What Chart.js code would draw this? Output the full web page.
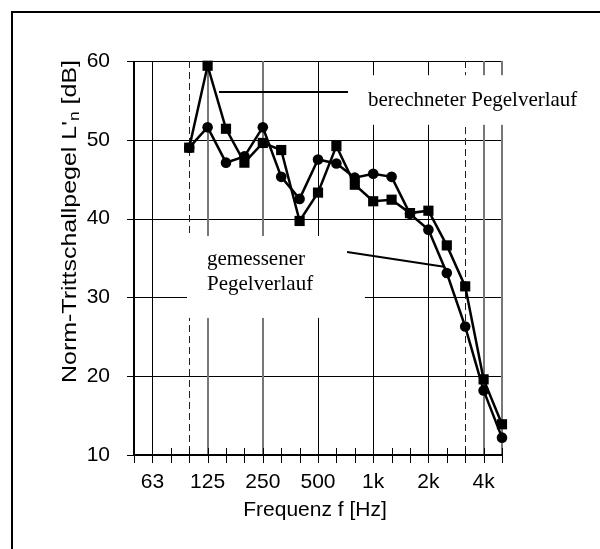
<!DOCTYPE html>
<html><head><meta charset="utf-8">
<script src="https://cdn.jsdelivr.net/npm/chart.js@4"></script>
<style>html,body{margin:0;padding:0;background:#fff}canvas{display:block}</style>
</head><body>
<canvas id="c" width="600" height="549"></canvas>
<script>
// ---- data ----
const bands = ['50','63','80','100','125','160','200','250','315','400','500','630','800','1k','1.25k','1.6k','2k','2.5k','3.15k','4k','5k'];
const tickLabels = ['63','125','250','500','1k','2k','4k'];
const berechnet = [null,null,null,49.0,59.4,51.4,47.1,49.6,48.7,39.7,43.3,49.2,44.3,42.2,42.4,40.7,41.0,36.6,31.4,19.6,13.9];
const gemessen  = [null,null,null,49.0,51.6,47.1,47.9,51.6,45.3,42.5,47.5,47.0,45.2,45.7,45.3,40.6,38.6,33.1,26.3,18.2,12.2];
const yTickValues = [10,20,30,40,50,60];
const yTitle = ["Norm-Trittschallpegel L'", "n", " [dB]"];
const xTitle = "Frequenz f [Hz]";
const labelCalc = "berechneter Pegelverlauf";
const labelMeas = ["gemessener", "Pegelverlauf"];

// ---- styling ----
const SANS = "'Liberation Sans', Arial, sans-serif";
const SERIF = "'Liberation Serif', 'Times New Roman', serif";
const gridSolid = ['63','500','1k','2k'];
const gridGray = ['125','250','4k','5k'];
const gridDashed = ['100','3.15k'];

const deco = {
  id: 'deco',
  beforeDraw(chart) {
    const ctx = chart.ctx;
    ctx.save();
    ctx.fillStyle = '#fff';
    ctx.fillRect(0, 0, chart.width, chart.height);
    ctx.strokeStyle = '#000';
    ctx.lineWidth = 2;
    ctx.beginPath();
    ctx.moveTo(12, chart.height); ctx.lineTo(12, 12); ctx.lineTo(chart.width, 12);
    ctx.stroke();
    ctx.restore();
  },
  beforeDatasetsDraw(chart) {
    const ctx = chart.ctx, xs = chart.scales.x, ys = chart.scales.y, a = chart.chartArea;
    const px = i => xs.getPixelForValue(i);
    const py = v => ys.getPixelForValue(v);
    ctx.save();
    // horizontal grid
    ctx.strokeStyle = '#000'; ctx.lineWidth = 1;
    yTickValues.forEach(v => {
      if (v === ys.min) return;
      const y = Math.round(py(v)) + 0.5;
      ctx.beginPath(); ctx.moveTo(a.left, y); ctx.lineTo(a.right, y); ctx.stroke();
    });
    // vertical grid
    bands.forEach((b, i) => {
      const x = Math.round(px(i));
      ctx.setLineDash([]);
      if (gridSolid.includes(b)) { ctx.strokeStyle = '#000'; ctx.lineWidth = 1; }
      else if (gridGray.includes(b)) { ctx.strokeStyle = '#777'; ctx.lineWidth = 2; }
      else if (gridDashed.includes(b)) { ctx.strokeStyle = '#222'; ctx.lineWidth = 1; ctx.setLineDash([7,4]); }
      else return;
      const xx = ctx.lineWidth === 1 ? x + 0.5 : x;
      ctx.beginPath(); ctx.moveTo(xx, a.top); ctx.lineTo(xx, a.bottom); ctx.stroke();
    });
    ctx.setLineDash([]);
    // white label boxes (in data coordinates)
    ctx.fillStyle = '#fff';
    const b1x = px(2.88), b1y = py(37.8);
    ctx.fillRect(b1x, b1y, px(12.55) - b1x, py(27.4) - b1y);
    const b2x = px(11.5), b2y = py(58.2);
    ctx.fillRect(b2x, b2y, chart.width - b2x, py(51.9) - b2y);
    // axes
    ctx.strokeStyle = '#000'; ctx.lineWidth = 2;
    ctx.beginPath();
    ctx.moveTo(a.left, a.top); ctx.lineTo(a.left, a.bottom); ctx.lineTo(a.right, a.bottom);
    ctx.stroke();
    ctx.lineWidth = 1;
    yTickValues.forEach(v => {
      const y = Math.round(py(v)) + 0.5;
      ctx.beginPath(); ctx.moveTo(a.left - 7, y); ctx.lineTo(a.left + 6, y); ctx.stroke();
    });
    bands.forEach((b, i) => {
      const x = Math.round(px(i)) + 0.5;
      ctx.beginPath(); ctx.moveTo(x, a.bottom - 7); ctx.lineTo(x, a.bottom + 8); ctx.stroke();
    });
    ctx.restore();
  },
  afterDatasetsDraw(chart) {
    const ctx = chart.ctx, xs = chart.scales.x, ys = chart.scales.y;
    const px = i => xs.getPixelForValue(i);
    const py = v => ys.getPixelForValue(v);
    ctx.save();
    // pointer lines
    ctx.strokeStyle = '#000'; ctx.lineWidth = 2;
    ctx.beginPath(); ctx.moveTo(px(4.62), py(56.07)); ctx.lineTo(px(11.63), py(56.07)); ctx.stroke();
    ctx.beginPath(); ctx.moveTo(px(11.58), py(35.76)); ctx.lineTo(px(16.85), py(33.9)); ctx.stroke();
    // annotation texts
    ctx.fillStyle = '#000';
    ctx.font = "21px " + SERIF;
    ctx.textAlign = 'left'; ctx.textBaseline = 'alphabetic';
    ctx.fillText(labelCalc, px(12.72), py(54.35));
    ctx.fillText(labelMeas[0], px(3.97), py(34.1));
    ctx.fillText(labelMeas[1], px(3.97), py(30.94));
    // x title
    ctx.font = "21px " + SANS;
    ctx.textAlign = 'center'; ctx.textBaseline = 'middle';
    ctx.fillText(xTitle, 315, 510);
    // y title (with subscript)
    const f = "20px " + SANS, fs = "14px " + SANS;
    ctx.font = f;
    const w1 = ctx.measureText(yTitle[0]).width, w3 = ctx.measureText(yTitle[2]).width;
    ctx.font = fs;
    const w2 = ctx.measureText(yTitle[1]).width;
    const total = w1 + w2 + w3;
    ctx.translate(70.5, 221.5);
    ctx.rotate(-Math.PI / 2);
    ctx.scale(323 / total, 1);
    ctx.textAlign = 'left'; ctx.textBaseline = 'middle';
    let x = -total / 2;
    ctx.font = f; ctx.fillText(yTitle[0], x, 0); x += w1;
    ctx.font = fs; ctx.fillText(yTitle[1], x, 5); x += w2;
    ctx.font = f; ctx.fillText(yTitle[2], x, 0);
    ctx.restore();
  }
};

new Chart(document.getElementById('c'), {
  type: 'line',
  data: {
    labels: bands,
    datasets: [
      { label: 'berechnet', data: berechnet, borderColor: '#000', backgroundColor: '#000', borderWidth: 2.5,
        pointStyle: 'rect', pointRadius: 7.2, pointBorderWidth: 0, tension: 0, clip: false, spanGaps: false },
      { label: 'gemessen', data: gemessen, borderColor: '#000', backgroundColor: '#000', borderWidth: 2.5,
        pointStyle: 'circle', pointRadius: 5.3, pointBorderWidth: 0, tension: 0, clip: false, spanGaps: false }
    ]
  },
  options: {
    responsive: false,
    animation: false,
    devicePixelRatio: 1,
    layout: { padding: { top: 61, right: 98, left: 0, bottom: 0 } },
    plugins: { legend: { display: false }, tooltip: { enabled: false } },
    scales: {
      x: {
        type: 'category', offset: false,
        grid: { display: false }, border: { display: false },
        ticks: {
          autoSkip: false, maxRotation: 0, minRotation: 0, padding: 7,
          color: '#000', font: { family: SANS, size: 21 },
          callback: function (v, i) { return tickLabels.includes(bands[i]) ? bands[i] : ''; }
        },
        afterFit: s => { s.height = 94; }
      },
      y: {
        type: 'linear', min: 10, max: 60,
        grid: { display: false }, border: { display: false },
        ticks: { stepSize: 10, padding: 16, color: '#000', font: { family: SANS, size: 21 } },
        afterFit: s => { s.height; s.width = 134; }
      }
    }
  },
  plugins: [deco]
});
</script>
</body></html>
